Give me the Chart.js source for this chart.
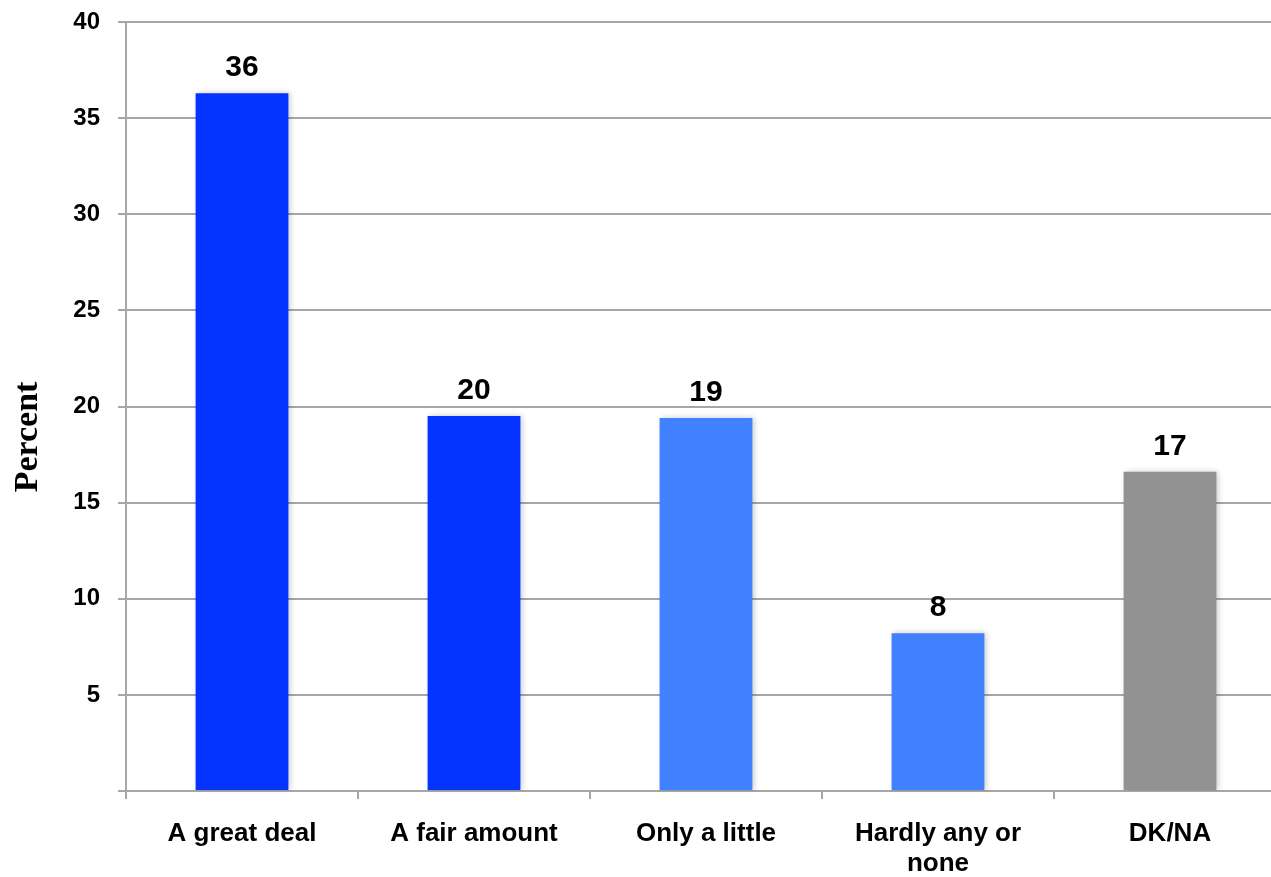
<!DOCTYPE html>
<html>
<head>
<meta charset="utf-8">
<script src="https://cdn.jsdelivr.net/npm/chart.js@4"></script>
<style>
  html, body { margin: 0; padding: 0; background: #fff; overflow: hidden; }
  #wrap { width: 1286px; height: 877px; }
</style>
</head>
<body>
<div id="wrap"><canvas id="chart"></canvas></div>
<script>
const categories = ["A great deal", "A fair amount", "Only a little", ["Hardly any or", "none"], "DK/NA"];
const percents = [36.3, 19.5, 19.4, 8.2, 16.6];
const valueLabels = ["36", "20", "19", "8", "17"];
const barColors = ["#0433ff", "#0433ff", "#4181ff", "#4181ff", "#929292"];
const yTicks = { min: 0, max: 40, step: 5 };
const yTitle = "Percent";

// labels above bars + shadow + rotated serif title
const extras = {
  id: "extras",
  beforeDatasetsDraw(chart) {
    const ctx = chart.ctx;
    ctx.save();
    ctx.shadowColor = "rgba(0,0,0,0.22)";
    ctx.shadowBlur = 6;
    ctx.shadowOffsetX = 2;
    ctx.shadowOffsetY = 0;
  },
  afterDatasetsDraw(chart) {
    const ctx = chart.ctx;
    ctx.restore();
    const meta = chart.getDatasetMeta(0);
    ctx.save();
    ctx.fillStyle = "#000";
    ctx.font = "bold 30px 'Liberation Sans', Arial, sans-serif";
    ctx.textAlign = "center";
    ctx.textBaseline = "alphabetic";
    meta.data.forEach((bar, i) => {
      ctx.fillText(valueLabels[i], bar.x, bar.y - 17);
    });
    ctx.restore();
  },
  afterDraw(chart) {
    const ctx = chart.ctx;
    ctx.save();
    ctx.translate(28, 437);
    ctx.rotate(-Math.PI / 2);
    ctx.fillStyle = "#000";
    ctx.font = "bold 34px 'Liberation Serif', 'Times New Roman', serif";
    ctx.textAlign = "center";
    ctx.textBaseline = "middle";
    ctx.fillText(yTitle, 0, 0);
    ctx.restore();
  }
};

new Chart(document.getElementById("chart"), {
  type: "bar",
  data: {
    labels: categories,
    datasets: [{
      data: percents,
      backgroundColor: barColors,
      borderWidth: 0,
      categoryPercentage: 1,
      barPercentage: 0.40
    }]
  },
  options: {
    responsive: true,
    maintainAspectRatio: false,
    animation: false,
    layout: { padding: { top: 22, right: 0, bottom: 0, left: 0 } },
    plugins: {
      legend: { display: false },
      tooltip: { enabled: false }
    },
    scales: {
      x: {
        grid: { drawOnChartArea: false, drawTicks: true, tickLength: 8, color: "#a6a6a6", lineWidth: 2 },
        border: { color: "#a6a6a6", width: 2 },
        ticks: {
          color: "#000",
          padding: 19,
          maxRotation: 0,
          autoSkip: false,
          font: { family: "'Liberation Sans', Arial, sans-serif", size: 26, weight: "bold", lineHeight: 1.18 }
        },
        afterFit(scale) { scale.height = 86; }
      },
      y: {
        min: yTicks.min,
        max: yTicks.max,
        grid: { color: "#a6a6a6", lineWidth: 2, tickLength: 8 },
        border: { color: "#a6a6a6", width: 2 },
        ticks: {
          stepSize: yTicks.step,
          color: "#000",
          padding: 18,
          font: { family: "'Liberation Sans', Arial, sans-serif", size: 24, weight: "bold" },
          callback: (v) => (v === 0 ? "" : v)
        },
        afterFit(scale) {
          scale.width = 126;
          scale.paddingTop = 0;
          scale.paddingBottom = 0;
        }
      }
    }
  },
  plugins: [extras]
});
</script>
</body>
</html>
